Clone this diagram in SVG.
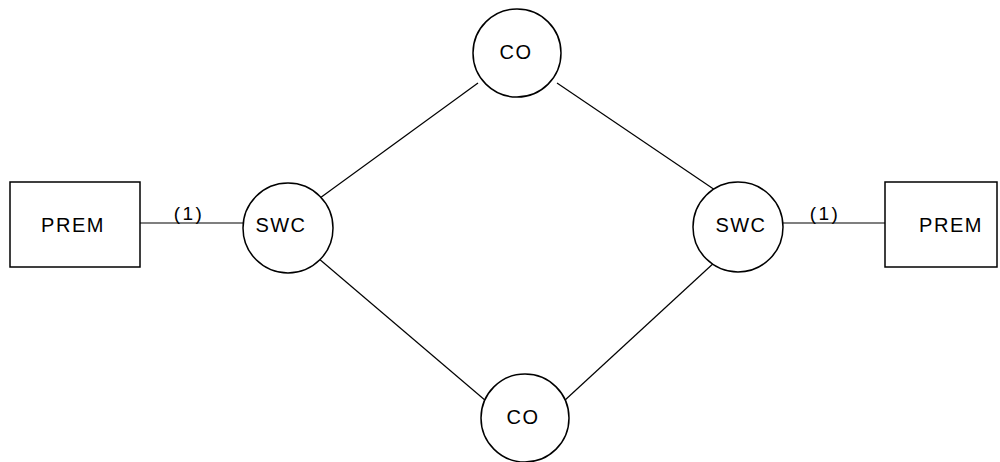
<svg xmlns="http://www.w3.org/2000/svg" width="1000" height="462" viewBox="0 0 1000 462">
<style>
.shape{fill:#fff;stroke:#000;stroke-width:1.5}
.conn line{stroke:#000;stroke-width:1.2}
text{font-family:"Liberation Sans",Arial,sans-serif;font-size:20px;letter-spacing:1.5px;fill:#000;text-anchor:middle;dominant-baseline:central}
.lbl{font-size:19px;letter-spacing:2.5px}
</style>
<rect width="1000" height="462" fill="#fff"/>
<g id="connectors" class="conn">
<line x1="140" y1="223" x2="243" y2="223"/>
<line x1="783" y1="223" x2="885" y2="223"/>
<line x1="320" y1="198" x2="478" y2="83"/>
<line x1="557" y1="83" x2="715" y2="190"/>
<line x1="318" y1="258" x2="486" y2="401"/>
<line x1="564" y1="401" x2="716" y2="261"/>
<text class="lbl" x="189" y="213">(1)</text>
<text class="lbl" x="825" y="213">(1)</text>
</g>
<g id="prem-left"><rect class="shape" x="10" y="182" width="130" height="85"/><text x="73" y="225">PREM</text></g>
<g id="swc-left"><circle class="shape" cx="288" cy="228" r="45"/><text x="281" y="225">SWC</text></g>
<g id="co-top"><circle class="shape" cx="517" cy="53" r="44"/><text x="516" y="52">CO</text></g>
<g id="co-bottom"><circle class="shape" cx="525" cy="418" r="44"/><text x="523" y="417">CO</text></g>
<g id="swc-right"><circle class="shape" cx="738" cy="227" r="45"/><text x="741" y="225">SWC</text></g>
<g id="prem-right"><rect class="shape" x="885" y="182" width="112" height="85"/><text x="951" y="225">PREM</text></g>
</svg>
